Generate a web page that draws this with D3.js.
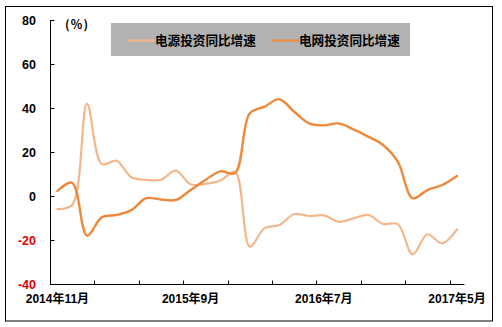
<!DOCTYPE html>
<html>
<head>
<meta charset="utf-8">
<script src="https://cdn.jsdelivr.net/npm/d3@7"></script>
<style>
  html, body { margin: 0; padding: 0; background: #fff; }
  svg { display: block; }
  text { font-family: "Liberation Sans", Arial, "Noto Sans CJK SC", sans-serif; font-weight: bold; }
  .cjk { font-family: "Noto Sans CJK SC", sans-serif; font-weight: bold; }
</style>
</head>
<body>
<div id="chart"></div>
<script>
// Monthly categories (January is combined into February in these statistics)
const categories = [
  "2014年11月", "2014年12月", "2015年2月", "2015年3月", "2015年4月", "2015年5月",
  "2015年6月", "2015年7月", "2015年8月", "2015年9月", "2015年10月", "2015年11月",
  "2015年12月", "2016年2月", "2016年3月", "2016年4月", "2016年5月", "2016年6月",
  "2016年7月", "2016年8月", "2016年9月", "2016年10月", "2016年11月", "2016年12月",
  "2017年2月", "2017年3月", "2017年4月", "2017年5月"
];

// 电源投资同比增速 (%)
const powerSource = [
  -6.0, -4.0, 42.0, 14.5, 16.0, 8.5, 7.3, 7.4, 11.5, 5.3, 5.5, 7.0,
  11.0, -23.0, -14.6, -13.2, -8.2, -9.1, -8.8, -11.7, -10.2, -8.6, -12.7, -12.8,
  -26.5, -17.4, -21.5, -15.2
];

// 电网投资同比增速 (%)
const powerGrid = [
  2.3, 6.0, -18.0, -9.7, -8.6, -6.4, -1.0, -1.6, -1.8, 2.7, 7.3, 11.2,
  10.4, 37.6, 40.6, 44.0, 38.3, 33.0, 32.1, 33.0, 30.3, 27.0, 23.2, 15.6,
  -1.0, 2.7, 5.0, 9.1
];

const yTicks = [80, 60, 40, 20, 0, -20, -40];
const xLabelEvery = 9;   // label every 9th category
const xTickEvery = 3;    // tick mark every 3rd category boundary

const seriesList = [
  { name: "电源投资同比增速", values: powerSource, color: "#F4B78B", width: 2.2 },
  { name: "电网投资同比增速", values: powerGrid, color: "#EE893B", width: 2.4 }
];

const W = 502, H = 327;
const svg = d3.select("#chart").append("svg").attr("width", W).attr("height", H);

// outer frame
svg.append("rect")
  .attr("x", 5.5).attr("y", 6.5).attr("width", 487).attr("height", 314.5)
  .attr("fill", "#fff").attr("stroke", "#000").attr("stroke-width", 1);

const plotLeft = 50, plotRight = 464.4, plotTop = 20, plotBottom = 284;

const x = d3.scaleBand().domain(d3.range(categories.length)).range([plotLeft, plotRight]).paddingInner(0).paddingOuter(0);
const y = d3.scaleLinear().domain([-40, 80]).range([plotBottom, plotTop]);
const cx = i => x(i) + x.bandwidth() / 2;

// y axis
const yAxis = svg.append("g").attr("transform", `translate(${plotLeft + 0.5},0)`)
  .call(d3.axisRight(y).tickValues(yTicks).tickSize(4).tickFormat(""));
yAxis.select(".domain").attr("stroke", "#000").attr("d", `M0,${plotTop}V${plotBottom}`);
yAxis.selectAll(".tick line").attr("stroke", "#000");

svg.append("g").selectAll("text").data(yTicks).join("text")
  .attr("x", 36).attr("y", d => y(d)).attr("dy", "0.36em")
  .attr("text-anchor", "end").attr("font-size", 12.5)
  .attr("fill", d => d < 0 ? "#E00000" : "#000")
  .text(d => d);

// x axis with tick marks at category boundaries
const boundaries = d3.range(xTickEvery, categories.length, xTickEvery);
const xAxisG = svg.append("g").attr("transform", `translate(0,${plotBottom + 0.5})`);
xAxisG.append("path").attr("d", `M${plotLeft},0H${plotRight}`).attr("stroke", "#000");
xAxisG.selectAll("line").data(boundaries).join("line")
  .attr("x1", d => Math.round(x(d)) + 0.5).attr("x2", d => Math.round(x(d)) + 0.5)
  .attr("y1", 0).attr("y2", -4).attr("stroke", "#000");

const labelIdx = d3.range(0, categories.length, xLabelEvery);
svg.append("g").selectAll("text").data(labelIdx).join("text")
  .attr("x", d => cx(d)).attr("y", 303)
  .attr("text-anchor", "middle").attr("font-size", 12)
  .attr("fill", "#000")
  .text(d => categories[d]);

// unit label
svg.append("text").attr("class", "cjk").attr("x", 65).attr("y", 29)
  .attr("font-size", 12).attr("letter-spacing", 1).attr("fill", "#000").text("(％)");

// series lines: centripetal Catmull-Rom keeps short steps from overshooting
const line = d3.line().x((d, i) => cx(i)).y(d => y(d)).curve(d3.curveCatmullRom.alpha(0.5));
svg.append("g").selectAll("path").data(seriesList).join("path")
  .attr("d", s => line(s.values))
  .attr("fill", "none")
  .attr("stroke", s => s.color)
  .attr("stroke-width", s => s.width)
  .attr("stroke-linejoin", "round").attr("stroke-linecap", "round");

// legend
const lg = svg.append("g");
lg.append("rect").attr("x", 111).attr("y", 23).attr("width", 299).attr("height", 33).attr("fill", "#B2B2B2");
const legendX = [128, 272];
seriesList.forEach((s, i) => {
  lg.append("line").attr("x1", legendX[i]).attr("x2", legendX[i] + 27)
    .attr("y1", 40.5).attr("y2", 40.5).attr("stroke", s.color).attr("stroke-width", 2.2);
  lg.append("text").attr("class", "cjk").attr("x", legendX[i] + 27).attr("y", 40.5)
    .attr("dy", "0.36em").attr("font-size", 12.6).attr("fill", "#000").text(s.name);
});
</script>
</body>
</html>
